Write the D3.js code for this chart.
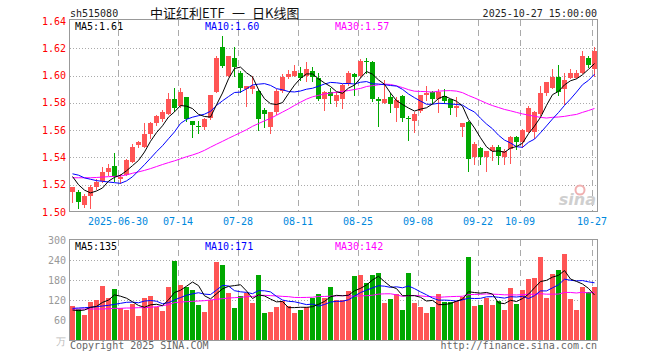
<!DOCTYPE html>
<html><head><meta charset="utf-8">
<script src="https://cdn.jsdelivr.net/npm/d3@7/dist/d3.min.js"></script>
<style>body{margin:0;background:#fff}svg{display:block}</style>
</head><body>
<svg id="chart" width="660" height="360"></svg>
<script>
// ---------- data ----------
const dates = [
"2025-06-18","2025-06-19","2025-06-20","2025-06-23","2025-06-24","2025-06-25","2025-06-26","2025-06-27","2025-06-30",
"2025-07-01","2025-07-02","2025-07-03","2025-07-04","2025-07-07","2025-07-08","2025-07-09","2025-07-10","2025-07-11",
"2025-07-14","2025-07-15","2025-07-16","2025-07-17","2025-07-18","2025-07-21","2025-07-22","2025-07-23","2025-07-24",
"2025-07-25","2025-07-28","2025-07-29","2025-07-30","2025-07-31",
"2025-08-01","2025-08-04","2025-08-05","2025-08-06","2025-08-07","2025-08-08","2025-08-11","2025-08-12","2025-08-13",
"2025-08-14","2025-08-15","2025-08-18","2025-08-19","2025-08-20","2025-08-21","2025-08-22","2025-08-25","2025-08-26",
"2025-08-27","2025-08-28","2025-08-29",
"2025-09-01","2025-09-02","2025-09-03","2025-09-04","2025-09-05","2025-09-08","2025-09-09","2025-09-10","2025-09-11",
"2025-09-12","2025-09-15","2025-09-16","2025-09-17","2025-09-18","2025-09-19","2025-09-22","2025-09-23","2025-09-24",
"2025-09-25","2025-09-26","2025-09-29","2025-09-30",
"2025-10-09","2025-10-10","2025-10-13","2025-10-14","2025-10-15","2025-10-16","2025-10-17","2025-10-20","2025-10-21",
"2025-10-22","2025-10-23","2025-10-24","2025-10-27"];

const open  = [1.515,1.515,1.505,1.512,1.518,1.523,1.529,1.534,1.524,1.527,1.537,1.549,1.548,1.557,1.565,1.568,1.572,1.583,
1.578,1.584,1.567,1.563,1.562,1.569,1.588,1.621,1.600,1.613,1.602,1.590,1.590,1.589,1.575,1.562,1.573,1.589,1.599,1.600,
1.602,1.600,1.603,1.598,1.583,1.588,1.581,1.583,1.594,1.601,1.600,1.611,1.610,1.583,1.580,1.584,1.576,1.585,1.569,1.567,
1.574,1.586,1.588,1.583,1.585,1.583,1.576,1.562,1.566,1.540,1.547,1.540,1.545,1.548,1.540,1.546,1.555,1.551,1.559,1.559,
1.572,1.587,1.591,1.599,1.590,1.598,1.598,1.602,1.613,1.605];
const high  = [1.518,1.516,1.513,1.520,1.524,1.533,1.535,1.543,1.528,1.539,1.550,1.552,1.565,1.566,1.571,1.575,1.587,1.591,
1.591,1.584,1.567,1.567,1.569,1.586,1.614,1.629,1.614,1.621,1.603,1.592,1.600,1.590,1.576,1.573,1.590,1.601,1.604,1.608,
1.606,1.610,1.606,1.602,1.589,1.591,1.588,1.594,1.603,1.602,1.612,1.613,1.611,1.584,1.597,1.587,1.584,1.586,1.570,1.573,
1.586,1.592,1.589,1.590,1.590,1.583,1.584,1.565,1.567,1.551,1.548,1.545,1.549,1.549,1.546,1.556,1.556,1.561,1.578,1.574,
1.592,1.595,1.605,1.608,1.602,1.605,1.604,1.618,1.614,1.621];
const low   = [1.507,1.503,1.504,1.503,1.517,1.522,1.527,1.523,1.521,1.527,1.537,1.548,1.548,1.554,1.564,1.567,1.572,1.574,
1.577,1.567,1.555,1.558,1.561,1.568,1.588,1.606,1.600,1.600,1.588,1.578,1.587,1.560,1.562,1.558,1.572,1.588,1.598,1.600,
1.597,1.596,1.596,1.582,1.575,1.580,1.578,1.576,1.593,1.586,1.599,1.602,1.581,1.563,1.580,1.573,1.567,1.567,1.553,1.559,
1.573,1.582,1.580,1.573,1.580,1.572,1.570,1.556,1.530,1.535,1.535,1.530,1.538,1.535,1.535,1.536,1.546,1.548,1.559,1.554,
1.571,1.586,1.591,1.586,1.579,1.598,1.598,1.602,1.606,1.600];
const close = [1.518,1.507,1.512,1.518,1.522,1.529,1.532,1.526,1.526,1.538,1.548,1.551,1.557,1.565,1.570,1.573,1.583,1.576,
1.588,1.568,1.564,1.562,1.568,1.586,1.613,1.607,1.614,1.606,1.591,1.592,1.592,1.568,1.572,1.573,1.589,1.599,1.601,1.603,
1.598,1.605,1.599,1.583,1.588,1.585,1.586,1.593,1.602,1.599,1.611,1.610,1.583,1.581,1.583,1.579,1.582,1.569,1.568,1.572,
1.586,1.587,1.583,1.588,1.581,1.576,1.578,1.565,1.539,1.550,1.540,1.545,1.548,1.541,1.545,1.555,1.551,1.560,1.576,1.573,
1.587,1.595,1.599,1.588,1.597,1.602,1.602,1.614,1.608,1.618];
// volume in 万手
const volume = [102,92,75,115,120,162,127,153,95,90,108,72,126,132,98,87,159,237,165,159,150,105,84,119,234,
226,141,96,132,141,112,195,81,85,99,118,102,82,90,98,127,138,126,159,120,120,147,192,196,170,196,202,112,123,138,
90,202,112,99,82,99,138,114,114,117,129,250,102,105,127,105,118,90,156,108,150,183,186,250,126,198,210,258,123,90,159,144,159];

// moving-average values for the days before a full window exists
const ma5Lead  = [1.526,1.520,1.516,1.514];
const ma10Lead = [1.528,1.527,1.525,1.524,1.523,1.5225,1.522,1.5215,1.521];
const ma30Lead = [1.5251,1.5251,1.5251,1.5251,1.5253,1.5256,1.5259,1.5261,1.5264,1.5272,1.5284,1.5294,1.5305,1.5318,
1.5333,1.5348,1.5362,1.5375,1.5390,1.5405,1.5418,1.5433,1.5452,1.5475,1.5497,1.5518,1.5540,1.5561,1.5582];
const volMa5Lead  = [90,88,90,98];
const volMa10Lead = [95,96,97,98,100,102,104,107,110];
const volMa30Lead = [93,93,93,93,93,93,94,95,95,96,96,97,97,98,100,103,106,112,114,115,116,117,118,120,122,124,126,127,128];

const priceTicks = [1.50,1.52,1.54,1.56,1.58,1.60,1.62,1.64];
const volTicks = [60,120,180,240,300];
const dateTicks = ["2025-06-30","2025-07-14","2025-07-28","2025-08-11","2025-08-25","2025-09-08","2025-09-22","2025-10-09","2025-10-27"];
const dateTickLabels = ["2025-06-30","07-14","07-28","08-11","08-25","09-08","09-22","10-09","10-27"];
const priceLegend = ["MA5:1.61","MA10:1.60","MA30:1.57"];
const volLegend = ["MA5:135","MA10:171","MA30:142"];
const maColors = ["#000000","#0000ff","#ff00ff"];
const titleParts = ["中证红利ETF","一","日K线图"];

// ---------- helpers ----------
function movingAvg(values, n, lead){
  return values.map((v,i)=> i < lead.length ? lead[i] : d3.mean(values.slice(i-n+1,i+1)));
}
const RED="#ff5555", GREEN="#00a800", MONO="'DejaVu Sans Mono', monospace";

const svg = d3.select("#chart");
const L=70, R=597, T=20, B=211, VT=240, VB=340;

const x = d3.scaleBand().domain(dates).range([L, R]).paddingInner(1/6).paddingOuter(0);
const bw = x.bandwidth();
const y = d3.scaleLinear().domain([1.50,1.64]).range([212,21]);
const yv = d3.scaleLinear().domain([0,300]).range([VB,VT]);

// ---------- grids ----------
const grid = svg.append("g").attr("stroke","#aaa").attr("stroke-width",1).attr("shape-rendering","crispEdges");
priceTicks.filter(t=>t>1.50 && t<1.64).forEach(t=>{
  const yy=Math.round(y(t))+0.5;
  grid.append("line").attr("x1",L).attr("x2",R+1).attr("y1",yy).attr("y2",yy).attr("stroke-dasharray","1,2");
});
volTicks.filter(t=>t<300).forEach(t=>{
  const yy=Math.round(yv(t))+0.5;
  grid.append("line").attr("x1",L).attr("x2",R+1).attr("y1",yy).attr("y2",yy).attr("stroke-dasharray","1,2");
});
dateTicks.forEach(d=>{
  const xx=Math.round(x(d))+0.5;
  grid.append("line").attr("x1",xx).attr("x2",xx).attr("y1",T).attr("y2",B).attr("stroke-dasharray","6,4");
  grid.append("line").attr("x1",xx).attr("x2",xx).attr("y1",VT).attr("y2",VB).attr("stroke-dasharray","6,4");
});

// ---------- candles + volume bars ----------
const cg = svg.append("g").attr("shape-rendering","crispEdges");
dates.forEach((d,i)=>{
  const o=open[i], c=close[i], up = c>=o;
  const col = up?RED:GREEN;
  const x0 = x(d);
  cg.append("line").attr("x1",x0+2.5).attr("x2",x0+2.5)
    .attr("y1",Math.round(y(high[i]))).attr("y2",Math.round(y(low[i]))+1).attr("stroke",col);
  const yt=Math.round(y(Math.max(o,c))), yb=Math.round(y(Math.min(o,c)));
  cg.append("rect").attr("x",x0).attr("width",bw).attr("y",yt).attr("height",Math.max(1,yb-yt)).attr("fill",col);
  const vy = Math.round(yv(volume[i]));
  cg.append("rect").attr("x",x0).attr("width",bw).attr("y",vy).attr("height",VB-vy).attr("fill",col);
});

// ---------- MA lines ----------
const cx = d=>x(d)+2.5;
const pMA = [movingAvg(close,5,ma5Lead),movingAvg(close,10,ma10Lead),movingAvg(close,30,ma30Lead)];
const vMA = [movingAvg(volume,5,volMa5Lead),movingAvg(volume,10,volMa10Lead),movingAvg(volume,30,volMa30Lead)];
const lineP = d3.line().x((v,i)=>cx(dates[i])).y(v=>y(v));
const lineV = d3.line().x((v,i)=>cx(dates[i])).y(v=>yv(v));
[2,1,0].forEach(k=>{
  svg.append("path").attr("d",lineP(pMA[k])).attr("fill","none").attr("stroke",maColors[k]).attr("stroke-width",1);
  svg.append("path").attr("d",lineV(vMA[k])).attr("fill","none").attr("stroke",maColors[k]).attr("stroke-width",1);
});

// ---------- frames ----------
svg.append("rect").attr("x",L-0.5).attr("y",T-0.5).attr("width",R-L+1).attr("height",B-T+1)
  .attr("fill","none").attr("stroke","#999").attr("stroke-width",1);
svg.append("rect").attr("x",L-0.5).attr("y",VT-0.5).attr("width",R-L+1).attr("height",VB-VT+1)
  .attr("fill","none").attr("stroke","#999").attr("stroke-width",1);

// ---------- axis labels ----------
const tg = svg.append("g").attr("font-family",MONO).attr("font-size",10);
priceTicks.forEach(t=>{
  tg.append("text").attr("x",66).attr("y",y(t)).attr("dy","0.35em").attr("text-anchor","end")
    .attr("fill","#ff0000").text(t.toFixed(2));
});
volTicks.forEach(t=>{
  tg.append("text").attr("x",66).attr("y",yv(t)).attr("dy","0.35em").attr("text-anchor","end")
    .attr("fill","#999").text(t);
});
tg.append("text").attr("x",66).attr("y",VB+1).attr("dy","0.35em").attr("text-anchor","end")
  .attr("fill","#bbb").text("万");
dateTicks.forEach((d,i)=>{
  tg.append("text").attr("x",x(d)).attr("y",225).attr("text-anchor","middle").attr("fill","#0088dd").text(dateTickLabels[i]);
});

// ---------- legends ----------
const legX=[75,205,335];
priceLegend.forEach((s,k)=> tg.append("text").attr("x",legX[k]).attr("y",30).attr("fill",maColors[k]).text(s));
volLegend.forEach((s,k)=> tg.append("text").attr("x",legX[k]).attr("y",250).attr("fill",maColors[k]).text(s));

// ---------- header / footer ----------
tg.append("text").attr("x",70).attr("y",17).attr("fill","#222").text("sh515080");
const title = svg.append("text").attr("y",18).attr("font-family","'Noto Sans CJK SC', sans-serif").attr("font-size",13)
  .attr("fill","#111");
const titleX=[150,232,252];
titleParts.forEach((s,k)=> title.append("tspan").attr("x",titleX[k]).text(s));
tg.append("text").attr("x",597).attr("y",17).attr("text-anchor","end").attr("fill","#222").text("2025-10-27 15:00:00");
tg.append("text").attr("x",70).attr("y",349).attr("fill","#666").text("Copyright 2025 SINA.COM");
tg.append("text").attr("x",597).attr("y",349).attr("text-anchor","end").attr("fill","#666").text("http://finance.sina.com.cn");

// watermark
svg.append("circle").attr("cx",580).attr("cy",190).attr("r",4.5).attr("fill","none").attr("stroke","#f0b0b0").attr("stroke-width",2);
svg.append("text").attr("x",596).attr("y",205).attr("text-anchor","end").attr("font-family","'DejaVu Sans', sans-serif")
  .attr("font-size",16).attr("font-weight","bold").attr("font-style","italic").attr("fill","#cfcfcf").text("sina");
</script>
</body></html>
